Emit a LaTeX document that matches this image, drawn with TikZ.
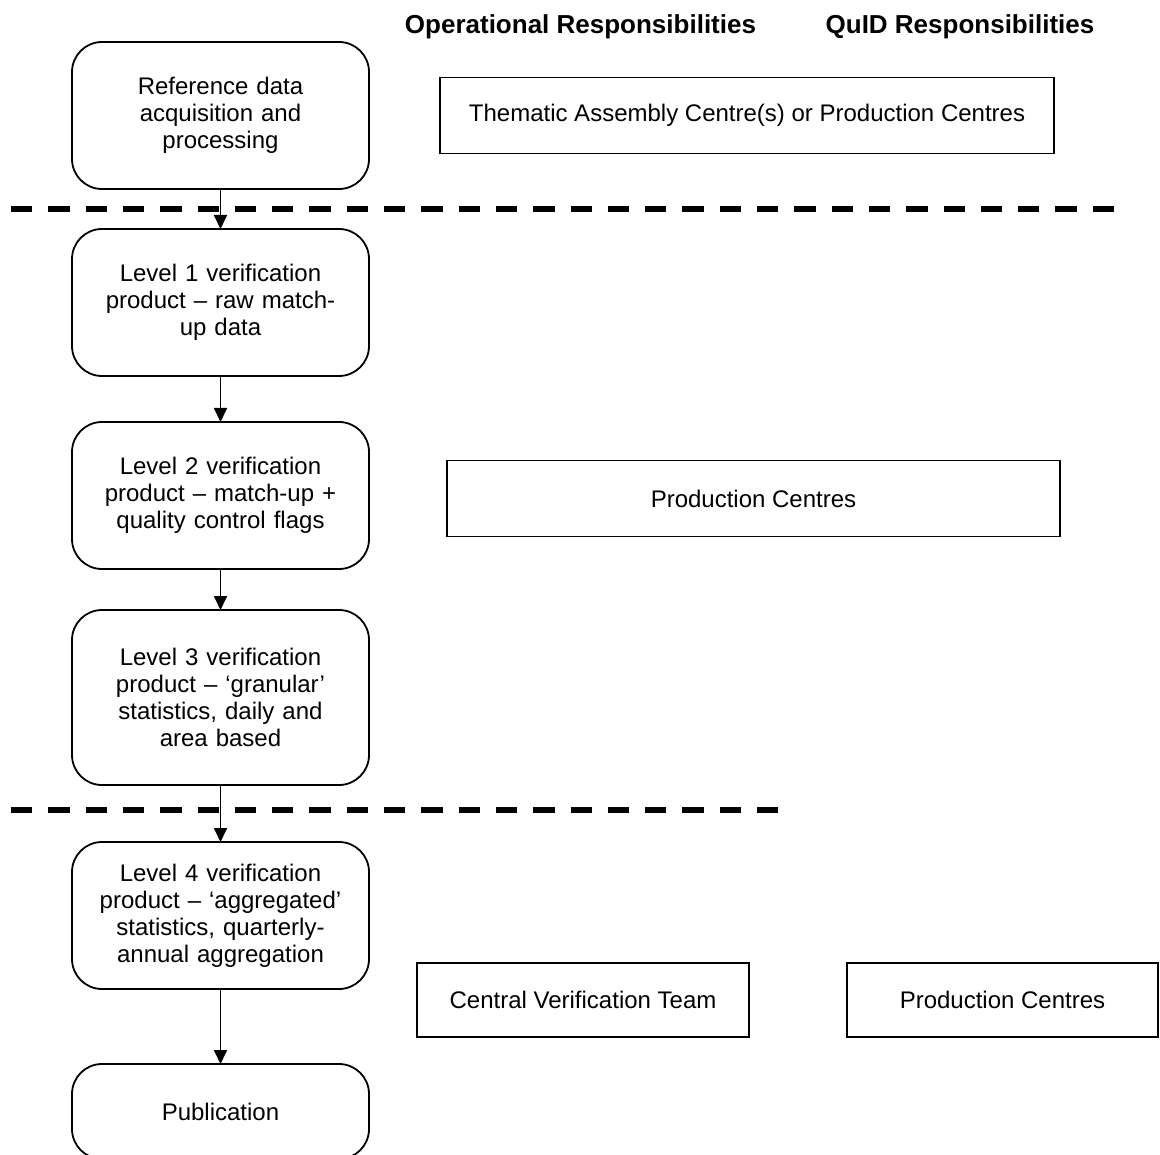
\documentclass[tikz,border=0pt]{standalone}
\usepackage{fontspec}
\setmainfont{Liberation Sans}
\usepackage{tikz}
\usetikzlibrary{arrows.meta, positioning}

\begin{document}
\begin{tikzpicture}[
    x=1pt, y=-1pt,
    node distance=40pt,
    stage/.style={rectangle, draw, line width=1.8pt, outer sep=0pt, rounded corners=30pt, minimum width=297pt, minimum height=147pt, text width=290pt, align=center, font=\fontsize{24}{27}\selectfont},
    duty/.style={rectangle, draw, line width=1.5pt, outer sep=0pt, minimum height=76pt, align=center, font=\fontsize{24}{27}\selectfont},
    heading/.style={font=\fontsize{26}{30}\selectfont\bfseries},
    arrow/.style={line width=1.8pt, -{Triangle[length=14pt, width=13pt]}},
    boundary/.style={line width=6pt, dash pattern=on 21.3pt off 16pt}
]
\clip (0,0) rectangle (1160,1155);

% Headings
\node[heading] (ophead) at (580.5,27) {Operational Responsibilities};
\node[heading] (quidhead) at (960,27) {QuID Responsibilities};

% Stages
\node[stage, anchor=north] (refdata) at (220.5,42) {Reference data\\acquisition and\\processing};
\node[stage, below=40pt of refdata] (level1) {Level 1 verification\\product -- raw match-\\up data};
\node[stage, below=46pt of level1] (level2) {Level 2 verification\\product -- match-up +\\quality control flags};
\node[stage, below=41pt of level2, minimum height=175pt] (level3) {Level 3 verification\\product -- `granular'\\statistics, daily and\\area based};
\node[stage, below=57pt of level3] (level4) {Level 4 verification\\product -- `aggregated'\\statistics, quarterly-\\annual aggregation};
\node[stage, below=75pt of level4, minimum height=95pt] (publication) {Publication};

% Responsibilities
\node[duty, minimum width=614pt] (tac) at (747,115.5) {Thematic Assembly Centre(s) or Production Centres};
\node[duty, minimum width=613pt] (prodmid) at (753.5,498.5) {Production Centres};
\node[duty, minimum width=332pt, minimum height=74pt] (cvt) at (583,1000) {Central Verification Team};
\node[duty, minimum width=311pt, minimum height=74pt] (prodlow) at (1002.5,1000) {Production Centres};

% Boundaries
\coordinate (bnd1a) at (11,209);
\coordinate (bnd1b) at (1117,209);
\coordinate (bnd2a) at (11,810);
\coordinate (bnd2b) at (782,810);
\draw[boundary] (bnd1a) -- (bnd1b);
\draw[boundary] (bnd2a) -- (bnd2b);

% Arrows
\draw[arrow] (refdata) -- (level1);
\draw[arrow] (level1) -- (level2);
\draw[arrow] (level2) -- (level3);
\draw[arrow] (level3) -- (level4);
\draw[arrow] (level4) -- (publication);

\end{tikzpicture}
\end{document}
